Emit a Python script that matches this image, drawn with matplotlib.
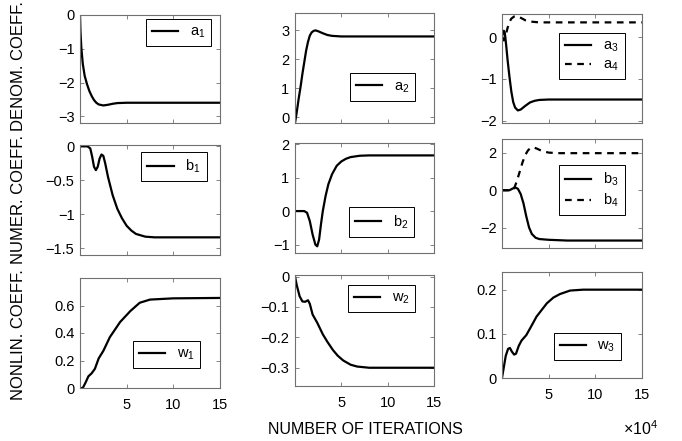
import matplotlib
matplotlib.use("Agg")
import matplotlib.pyplot as plt
from matplotlib.ticker import FuncFormatter

plt.rcParams['font.family'] = ['Liberation Sans', 'DejaVu Sans']
plt.rcParams['mathtext.fontset'] = 'custom'
plt.rcParams['mathtext.rm'] = 'Liberation Sans'
plt.rcParams['mathtext.it'] = 'Liberation Sans'
plt.rcParams['font.size'] = 10

# donnees (x en unites de 1e4 iterations)
a1_x = [0, 0.05, 0.15, 0.3, 0.5, 0.75, 1.0, 1.25, 1.5, 1.75, 2.0, 2.5, 3.0, 3.5, 4.0, 5, 15]
a1_y = [0, -0.5, -1.0, -1.45, -1.8, -2.05, -2.25, -2.4, -2.52, -2.6, -2.65, -2.68, -2.66, -2.63, -2.61, -2.6, -2.6]

a2_x = [0, 0.2, 0.4, 0.6, 0.8, 1.0, 1.2, 1.4, 1.6, 1.8, 2.0, 2.2, 2.5, 3.0, 3.5, 4.0, 5, 15]
a2_y = [-0.2, 0.2, 0.65, 1.05, 1.5, 1.9, 2.3, 2.6, 2.82, 2.93, 2.98, 3.0, 2.97, 2.9, 2.84, 2.81, 2.79, 2.79]

a3_x = [0, 0.1, 0.2, 0.3, 0.45, 0.6, 0.8, 1.0, 1.2, 1.4, 1.7, 2.0, 2.5, 3.0, 3.5, 4.0, 5, 15]
a3_y = [0, 0.1, 0.15, 0.1, -0.2, -0.55, -0.95, -1.3, -1.55, -1.68, -1.75, -1.73, -1.64, -1.56, -1.52, -1.5, -1.49, -1.49]
a4_x = [0, 0.2, 0.4, 0.6, 0.8, 1.0, 1.3, 1.6, 2.0, 2.5, 3.0, 4.0, 15]
a4_y = [0, -0.08, 0.05, 0.22, 0.36, 0.44, 0.49, 0.5, 0.46, 0.4, 0.37, 0.35, 0.35]

b1_x = [0, 0.8, 1.1, 1.3, 1.5, 1.7, 1.9, 2.1, 2.3, 2.5, 2.7, 3.0, 3.5, 4.0, 4.5, 5.0, 5.5, 6.0, 7.0, 8.0, 15]
b1_y = [0, 0, -0.03, -0.15, -0.3, -0.35, -0.3, -0.18, -0.12, -0.14, -0.25, -0.45, -0.72, -0.92, -1.06, -1.17, -1.24, -1.29, -1.33, -1.34, -1.34]

b2_x = [0, 1.0, 1.3, 1.6, 1.9, 2.2, 2.4, 2.6, 2.8, 3.0, 3.3, 3.6, 4.0, 4.5, 5.0, 5.5, 6.0, 7.0, 8, 15]
b2_y = [0, 0, -0.05, -0.3, -0.7, -1.0, -1.05, -0.85, -0.4, 0.0, 0.45, 0.8, 1.1, 1.35, 1.48, 1.56, 1.61, 1.65, 1.66, 1.66]

b3_x = [0, 0.8, 1.1, 1.4, 1.7, 2.0, 2.3, 2.6, 2.9, 3.2, 3.6, 4.0, 5.0, 7.0, 15]
b3_y = [0, 0, 0.08, 0.15, 0.08, -0.2, -0.7, -1.4, -2.0, -2.35, -2.55, -2.62, -2.66, -2.7, -2.7]
b4_x = [0, 1.0, 1.3, 1.6, 1.9, 2.2, 2.5, 2.8, 3.1, 3.4, 3.8, 4.3, 5.0, 6.0, 15]
b4_y = [0, 0, 0.1, 0.5, 1.0, 1.5, 1.9, 2.15, 2.28, 2.3, 2.22, 2.1, 2.02, 1.99, 1.99]

w1_x = [0, 0.3, 0.6, 0.9, 1.25, 1.6, 2.0, 2.5, 3.2, 4.3, 5.4, 6.4, 7.5, 10, 15]
w1_y = [0, 0, 0.04, 0.085, 0.107, 0.14, 0.215, 0.27, 0.37, 0.48, 0.56, 0.62, 0.643, 0.652, 0.655]

w2_x = [0, 0.2, 0.5, 0.8, 1.1, 1.4, 1.6, 1.9, 2.4, 3.0, 3.5, 4.1, 4.6, 5.2, 6.0, 6.7, 8.0, 15]
w2_y = [0, -0.03, -0.065, -0.082, -0.083, -0.078, -0.09, -0.125, -0.152, -0.19, -0.215, -0.242, -0.26, -0.276, -0.29, -0.296, -0.3, -0.3]

w3_x = [0, 0.2, 0.4, 0.65, 0.85, 1.05, 1.3, 1.5, 1.8, 2.1, 2.6, 3.0, 3.7, 4.8, 5.5, 6.2, 7.3, 8.7, 15]
w3_y = [0, 0.025, 0.05, 0.066, 0.068, 0.06, 0.053, 0.055, 0.073, 0.085, 0.097, 0.112, 0.139, 0.169, 0.182, 0.19, 0.198, 0.2, 0.2]

x_ticks = [5, 10, 15]
row_labels = ['DENOM. COEFF.', 'NUMER. COEFF.', 'NONLIN. COEFF.']

W, H = 682, 441
fig = plt.figure(figsize=(W / 100, H / 100), dpi=100)

def px_axes(x0, x1, y0, y1):
    # position en pixels (haut-gauche) -> fraction de figure
    return fig.add_axes([x0 / W, 1 - y1 / H, (x1 - x0) / W, (y1 - y0) / H])

fmt = FuncFormatter(lambda v, p: ('%g' % v).replace('-', '\u2212'))

# (colonne x0, x1), (ligne y0, y1), courbes, ylim, yticks, centre legende
panels = [
    ((80, 220), (15, 123), [(a1_x, a1_y, '-', 'a_1')], (-3.2, 0), [-3, -2, -1, 0], (178.5, 32.5)),
    ((295, 434), (13, 123), [(a2_x, a2_y, '-', 'a_2')], (-0.2, 3.6), [0, 1, 2, 3], (382.5, 87)),
    ((502, 642), (14, 123), [(a3_x, a3_y, '-', 'a_3'), (a4_x, a4_y, '--', 'a_4')], (-2.05, 0.55), [-2, -1, 0], (592, 56)),
    ((80, 220), (145, 255), [(b1_x, b1_y, '-', 'b_1')], (-1.6, 0.02), [-1.5, -1, -0.5, 0], (174, 166.5)),
    ((295, 434), (143, 253), [(b2_x, b2_y, '-', 'b_2')], (-1.25, 2.03), [-1, 0, 1, 2], (381.5, 222)),
    ((502, 642), (139, 248), [(b3_x, b3_y, '-', 'b_3'), (b4_x, b4_y, '--', 'b_4')], (-3.1, 2.75), [-2, 0, 2], (592, 190)),
    ((80, 220), (278, 388), [(w1_x, w1_y, '-', 'w_1')], (0, 0.8), [0, 0.2, 0.4, 0.6], (166.5, 354.5)),
    ((295, 434), (275, 386), [(w2_x, w2_y, '-', 'w_2')], (-0.36, 0.005), [-0.3, -0.2, -0.1, 0], (381.5, 298.5)),
    ((502, 642), (272, 378), [(w3_x, w3_y, '-', 'w_3')], (0, 0.24), [0, 0.1, 0.2], (587.5, 346.5)),
]

for i, (cx, cy, curves, ylim, yticks, leg_c) in enumerate(panels):
    ax = px_axes(cx[0], cx[1], cy[0], cy[1])
    for xs, ys, ls, lab in curves:
        ax.plot(xs, ys, color='black', linestyle=ls, linewidth=1.6,
                label=r'$\mathregular{%s}$' % lab, dashes=(3, 2.5) if ls == '--' else (None, None))
    ax.set_xlim(0, 15)
    ax.set_ylim(*ylim)
    ax.set_xticks(x_ticks)
    ax.set_yticks(yticks)
    ax.yaxis.set_major_formatter(fmt)
    if i < 6:
        ax.set_xticklabels([])
    ax.tick_params(direction='in', top=True, right=True, length=3, width=0.6,
                   color='#707070', labelsize=10.5, pad=4)
    ax.tick_params(axis='x', pad=7)
    for sp in ax.spines.values():
        sp.set_color('#707070')
        sp.set_linewidth(0.8)
    leg = ax.legend(loc='center', bbox_to_anchor=(leg_c[0] / W, 1 - leg_c[1] / H),
                    bbox_transform=fig.transFigure, fancybox=False, framealpha=1,
                    edgecolor='black', fontsize=10.5, handlelength=1.8, handletextpad=0.8,
                    borderpad=0.4, labelspacing=0.25, borderaxespad=0)
    leg.get_frame().set_linewidth(0.7)

# titres des lignes et de l'axe x
for lab, yc in zip(row_labels, [66, 200, 335]):
    fig.text(19 / W, 1 - yc / H, lab, rotation=90, ha='center', va='center', fontsize=12)
fig.text(365 / W, 1 - 429 / H, 'NUMBER OF ITERATIONS', ha='center', va='center', fontsize=11.5)
fig.text(641 / W, 1 - 429 / H, r'$\times\mathregular{10^4}$', ha='center', va='center', fontsize=11.5)

fig.savefig('out.png', dpi=100)
